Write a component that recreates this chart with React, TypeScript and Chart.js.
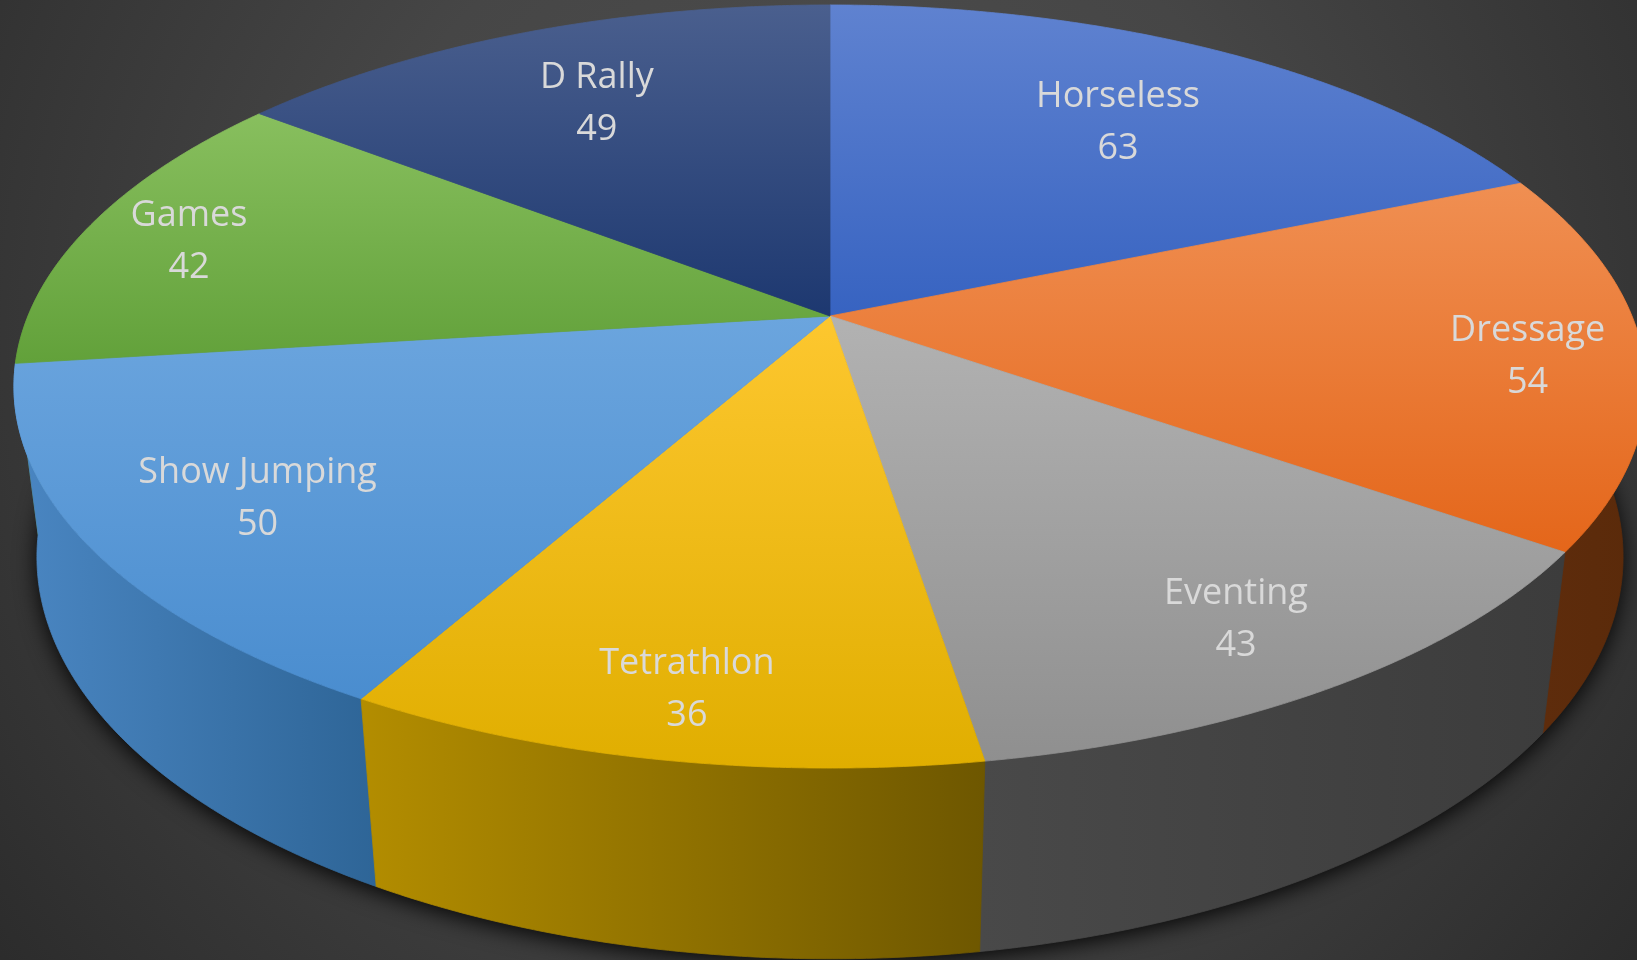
import React, { useEffect, useRef } from "react";
import { Chart, registerables } from "chart.js";

Chart.register(...registerables);

// ---- data ----
const categories = ["Horseless", "Dressage", "Eventing", "Tetrathlon", "Show Jumping", "Games", "D Rally"];
const values = [63, 54, 43, 36, 50, 42, 49];

// ---- styles ----
const baseColors = ["#4472C4", "#ED7D31", "#A5A5A5", "#FFC000", "#5B9BD5", "#70AD47", "#264478"];
const topColors = ["#5f82d0", "#f08f52", "#b2b2b2", "#fdc72f", "#6ba5de", "#88bf5e", "#4a5f8e"];
const bottomColors = ["#3763c1", "#e4661a", "#8f8f8f", "#e0ae00", "#4a8dcf", "#62a13a", "#1d3870"];
const sideLeftColors = ["#2c4e8c", "#5e2c0c", "#494949", "#b38d00", "#4a86c2", "#4f7c33", "#1a2f55"];
const sideRightColors = ["#24417a", "#5a2a0a", "#3c3c3c", "#6e5700", "#2e6597", "#3f6629", "#15264a"];
const labelRadius = [0.72, 0.86, 0.83, 0.855, 0.79, 0.863, 0.74];

// perspective view of the pie disc
const VIEW = { cx: 830, cy: 316, rx: 802, ry: 368.5, k: 0.1848, m: 0.028, e: 173.5 };

function proj(a: number, z: number, r = 1): [number, number] {
  const u = r * Math.cos(a);
  const v = r * Math.sin(a);
  const den = 1 - VIEW.k * v + VIEW.m * z;
  return [VIEW.cx + (VIEW.rx * u) / den, VIEW.cy + (VIEW.ry * v + VIEW.e * z) / den];
}

function arcPts(a0: number, a1: number, z: number): [number, number][] {
  const n = Math.max(2, Math.ceil(Math.abs(a1 - a0) / 0.006));
  const pts: [number, number][] = [];
  for (let i = 0; i <= n; i++) pts.push(proj(a0 + ((a1 - a0) * i) / n, z));
  return pts;
}

const pie3dPlugin = {
  id: "pie3d",
  beforeDraw(chart: any) {
    const { ctx, width, height } = chart;
    ctx.save();
    const g = ctx.createRadialGradient(818, 330, 0, 818, 330, 1050);
    g.addColorStop(0, "#4f4f4f");
    g.addColorStop(0.45, "#464646");
    g.addColorStop(1, "#2b2b2b");
    ctx.fillStyle = g;
    ctx.fillRect(0, 0, width, height);
    ctx.restore();
  },
  beforeDatasetsDraw(chart: any) {
    const ctx = chart.ctx;
    const meta = chart.getDatasetMeta(0);
    const arcs = meta.data.map((el: any, i: number) => ({ i, a0: el.startAngle, a1: el.endAngle }));

    // drop shadow under the pie
    ctx.save();
    ctx.beginPath();
    arcPts(0, Math.PI * 2, 1).forEach(([x, y], j) => (j ? ctx.lineTo(x, y) : ctx.moveTo(x, y)));
    ctx.closePath();
    ctx.shadowColor = "rgba(0,0,0,0.9)";
    ctx.shadowBlur = 22;
    ctx.shadowOffsetY = 5;
    ctx.fillStyle = "#1c1c1c";
    ctx.fill();
    ctx.restore();

    // side walls
    const lo = -0.25;
    const hi = Math.PI + 0.25;
    const order = [...arcs].sort(
      (p: any, q: any) => Math.sin((p.a0 + p.a1) / 2) - Math.sin((q.a0 + q.a1) / 2)
    );
    for (const s of order) {
      const a0 = Math.max(s.a0, lo);
      const a1 = Math.min(s.a1, hi);
      if (a1 <= a0) continue;
      const pts = [...arcPts(a0, a1, 0), ...arcPts(a1, a0, 1)];
      let xmin = Infinity;
      let xmax = -Infinity;
      pts.forEach(([x]) => {
        xmin = Math.min(xmin, x);
        xmax = Math.max(xmax, x);
      });
      const g = ctx.createLinearGradient(xmin, 0, xmax, 0);
      g.addColorStop(0, sideLeftColors[s.i]);
      g.addColorStop(1, sideRightColors[s.i]);
      ctx.save();
      ctx.beginPath();
      pts.forEach(([x, y], j) => (j ? ctx.lineTo(x, y) : ctx.moveTo(x, y)));
      ctx.closePath();
      ctx.fillStyle = g;
      ctx.fill();
      ctx.strokeStyle = g;
      ctx.lineWidth = 0.8;
      ctx.stroke();
      ctx.restore();
    }

    // top faces
    for (const s of arcs) {
      const pts = [proj(0, 0, 0), ...arcPts(s.a0, s.a1, 0)];
      let ymin = Infinity;
      let ymax = -Infinity;
      pts.forEach(([, y]) => {
        ymin = Math.min(ymin, y);
        ymax = Math.max(ymax, y);
      });
      const g = ctx.createLinearGradient(0, ymin, 0, ymax);
      g.addColorStop(0, topColors[s.i]);
      g.addColorStop(1, bottomColors[s.i]);
      ctx.save();
      ctx.beginPath();
      pts.forEach(([x, y], j) => (j ? ctx.lineTo(x, y) : ctx.moveTo(x, y)));
      ctx.closePath();
      ctx.fillStyle = g;
      ctx.fill();
      ctx.strokeStyle = g;
      ctx.lineWidth = 0.8;
      ctx.stroke();
      ctx.restore();
    }
    return false;
  },
  afterDraw(chart: any) {
    const ctx = chart.ctx;
    const meta = chart.getDatasetMeta(0);
    ctx.save();
    ctx.font = '36px "Open Sans"';
    ctx.fillStyle = "#d9d9d9";
    ctx.textAlign = "center";
    ctx.textBaseline = "middle";
    meta.data.forEach((el: any, i: number) => {
      const mid = (el.startAngle + el.endAngle) / 2;
      const [x, y] = proj(mid, 0, labelRadius[i]);
      ctx.fillText(String(chart.data.labels[i]), x, y - 20);
      ctx.fillText(String(chart.data.datasets[0].data[i]), x, y + 32);
    });
    ctx.restore();
  },
};

export default function App() {
  const ref = useRef<HTMLCanvasElement | null>(null);
  useEffect(() => {
    document.body.style.margin = "0";
    document.body.style.background = "#333";
    if (!ref.current) return;
    const chart = new Chart(ref.current, {
      type: "pie",
      data: {
        labels: categories,
        datasets: [{ data: values, backgroundColor: baseColors, borderWidth: 0 }],
      },
      options: {
        responsive: false,
        animation: false,
        layout: { padding: 0 },
        plugins: { legend: { display: false }, tooltip: { enabled: false } },
      },
      plugins: [pie3dPlugin as any],
    });
    return () => chart.destroy();
  }, []);
  return (
    <div style={{ width: 1637, height: 960, overflow: "hidden" }}>
      <canvas ref={ref} width={1637} height={960} style={{ display: "block" }} />
    </div>
  );
}
